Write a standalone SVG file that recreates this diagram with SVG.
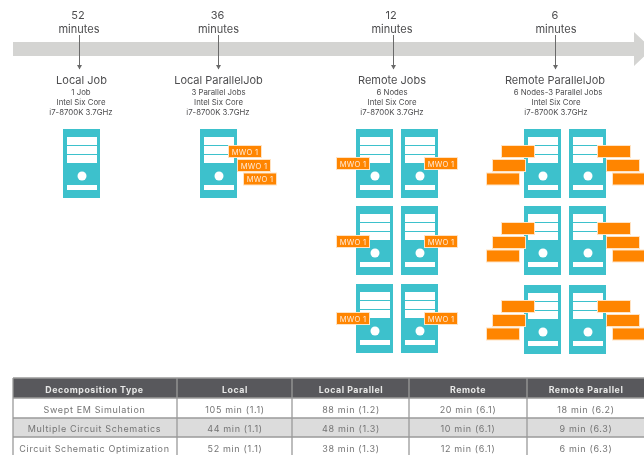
<svg xmlns="http://www.w3.org/2000/svg" width="644" height="455" viewBox="0 0 644 455">
<style>
text{font-family:"Inter","Liberation Sans",sans-serif;text-anchor:middle;fill:#4d4d4f}
.t{font-size:11px;font-weight:400}
.h{font-size:11px}
.s{font-size:7.8px}
.o{fill:#ff8500;stroke:#ffe3c4;stroke-width:1}
.m{font-size:7.6px;fill:#ffe9d6;letter-spacing:.2px}
.c{fill:#3cc1cc}
.w{fill:#fff}
.l{stroke:#6a6a6a;stroke-width:1;fill:none;marker-end:url(#a)}
.th{font-size:8.8px;font-weight:700;fill:#e8e8e8;letter-spacing:.55px}
.td{font-size:9px;fill:#747474;letter-spacing:.65px}
.g{stroke:#9a9a9a;stroke-width:1.300;fill:none}
</style>
<defs>
<marker id="a" markerWidth="6" markerHeight="6" refX="4" refY="2.5" orient="auto" markerUnits="userSpaceOnUse"><path d="M0 0L4.500 2.500L0 5z" fill="#6a6a6a"/></marker>
<filter id="b1" x="-5%" y="-5%" width="110%" height="110%"><feGaussianBlur stdDeviation="0.35"/></filter>
<filter id="b2" x="-2%" y="-5%" width="104%" height="110%"><feGaussianBlur stdDeviation="0.75"/></filter>
<g id="srv"><rect class="c" width="37" height="69"/><rect class="w" x="4" y="8" width="30" height="8"/><rect class="w" x="4" y="17" width="30" height="8"/><rect class="w" x="4" y="26" width="30" height="8"/><circle class="w" cx="19" cy="47" r="4.500"/><rect class="w" x="4" y="56" width="30" height="5"/></g>
<g id="mwo"><rect class="o" x="0.500" y="0.500" width="33" height="12"/><text class="m" x="17" y="9.500">MWO 1</text></g>
<rect id="blk" class="o" x="0.500" y="0.500" width="33" height="12"/>
</defs>
<g filter="url(#b1)">
<g id="timeline"><path d="M13 42H634V32L652 49L634 66V56H13z" fill="#d4d4d2"/></g>
<g id="connectors">
<path class="l" d="M79.500 35V69"/><path class="l" d="M218.500 35V69"/><path class="l" d="M393.500 35V69"/><path class="l" d="M555.500 35V69"/>
</g>
<g id="time-labels">
<text class="t" x="78" y="19">52</text><text class="t" x="79" y="33">minutes</text>
<text class="t" x="217.500" y="19">36</text><text class="t" x="218.500" y="33">minutes</text>
<text class="t" x="391" y="19">12</text><text class="t" x="392" y="33">minutes</text>
<text class="t" x="555" y="19">6</text><text class="t" x="556" y="33">minutes</text>
</g>
<g id="local-job">
<text class="h" x="81.500" y="84">Local Job</text><text class="s" x="81" y="95">1 Job</text><text class="s" x="81" y="105">Intel Six Core</text><text class="s" x="81" y="115">i7-8700K 3.7GHz</text>
<use href="#srv" x="63" y="129"/>
</g>
<g id="local-parallel">
<text class="h" x="218.500" y="84">Local ParallelJob</text><text class="s" x="218.500" y="95">3 Parallel Jobs</text><text class="s" x="218.500" y="105">Intel Six Core</text><text class="s" x="218" y="115">i7-8700K 3.7GHz</text>
<use href="#srv" x="200" y="129"/>
<use href="#mwo" x="228" y="145"/><use href="#mwo" x="237" y="159"/><use href="#mwo" x="243" y="172.500"/>
</g>
<g id="remote-jobs">
<text class="h" x="392" y="84">Remote Jobs</text><text class="s" x="392" y="95">6 Nodes</text><text class="s" x="392" y="105">Intel Six Core</text><text class="s" x="392" y="115">i7-8700K 3.7GHz</text>
<use href="#srv" x="356" y="129"/><use href="#srv" x="401" y="129"/>
<use href="#srv" x="356" y="206"/><use href="#srv" x="401" y="206"/>
<use href="#srv" x="356" y="284"/><use href="#srv" x="401" y="284"/>
<use href="#mwo" x="336" y="157"/><use href="#mwo" x="424" y="157"/>
<use href="#mwo" x="336" y="235"/><use href="#mwo" x="424" y="235"/>
<use href="#mwo" x="336" y="312"/><use href="#mwo" x="424" y="312"/>
</g>
<g id="remote-parallel">
<text class="h" x="555" y="84">Remote ParallelJob</text><text class="s" x="558" y="95">6 Nodes-3 Parallel Jobs</text><text class="s" x="556" y="105">Intel Six Core</text><text class="s" x="556" y="115">i7-8700K 3.7GHz</text>
<use href="#srv" x="524" y="129"/><use href="#srv" x="569" y="129"/>
<use href="#srv" x="524" y="206"/><use href="#srv" x="569" y="206"/>
<use href="#srv" x="524" y="285"/><use href="#srv" x="569" y="285"/>
<use href="#blk" x="501" y="145"/><use href="#blk" x="492" y="159"/><use href="#blk" x="486" y="172.500"/>
<use href="#blk" x="597" y="145"/><use href="#blk" x="606" y="159"/><use href="#blk" x="612" y="172.500"/>
<use href="#blk" x="501" y="222"/><use href="#blk" x="492" y="236"/><use href="#blk" x="486" y="249.500"/>
<use href="#blk" x="597" y="222"/><use href="#blk" x="606" y="236"/><use href="#blk" x="612" y="249.500"/>
<use href="#blk" x="501" y="300"/><use href="#blk" x="492" y="314"/><use href="#blk" x="486" y="327.500"/>
<use href="#blk" x="597" y="300"/><use href="#blk" x="606" y="314"/><use href="#blk" x="612" y="327.500"/>
</g>
</g>
<g id="table" filter="url(#b2)">
<rect x="13" y="378" width="640" height="20" fill="#58595b"/>
<rect x="13" y="418" width="640" height="19" fill="#dcdcdc"/>
<path class="g" d="M13 378H653M13 398H653M13 418H653M13 437H653M13 378V460M177 378V460M292 378V460M409 378V460M527 378V460"/>
<text class="th" x="94.500" y="393">Decomposition Type</text><text class="th" x="235" y="393">Local</text><text class="th" x="351" y="393">Local Parallel</text><text class="th" x="468" y="393">Remote</text><text class="th" x="586" y="393">Remote Parallel</text>
<text class="td" x="94.500" y="413">Swept EM Simulation</text><text class="td" x="235" y="413">105 min (1.1)</text><text class="td" x="351" y="413">88 min (1.2)</text><text class="td" x="468" y="413">20 min (6.1)</text><text class="td" x="586" y="413">18 min (6.2)</text>
<text class="td" x="94.500" y="432">Multiple Circuit Schematics</text><text class="td" x="235" y="432">44 min (1.1)</text><text class="td" x="351" y="432">48 min (1.3)</text><text class="td" x="468" y="432">10 min (6.1)</text><text class="td" x="586" y="432">9 min (6.3)</text>
<text class="td" x="94.500" y="452">Circuit Schematic Optimization</text><text class="td" x="235" y="452">52 min (1.1)</text><text class="td" x="351" y="452">38 min (1.3)</text><text class="td" x="468" y="452">12 min (6.1)</text><text class="td" x="586" y="452">6 min (6.3)</text>
</g>
</svg>
